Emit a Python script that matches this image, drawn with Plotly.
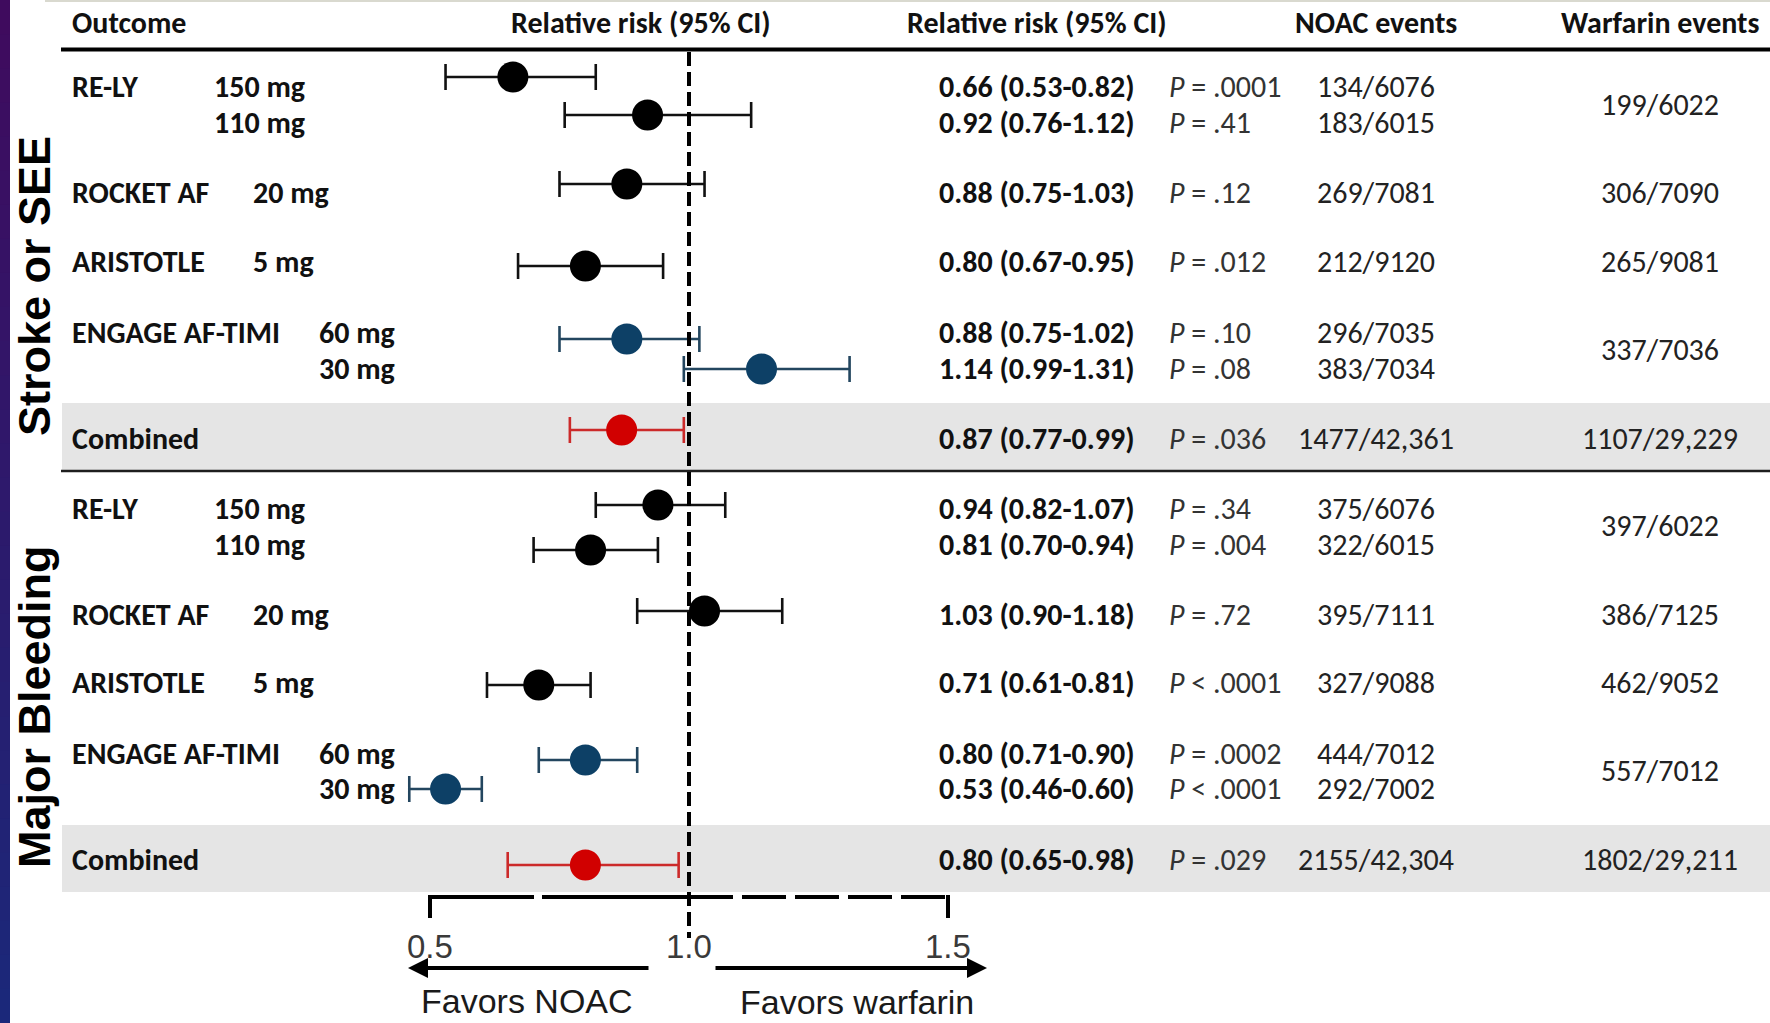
import plotly.graph_objects as go

W, H = 1770, 1023

# ---------------- data ----------------
studies = ["RE-LY", "", "ROCKET AF", "ARISTOTLE", "ENGAGE AF-TIMI", "", "Combined"]
doses = ["150 mg", "110 mg", "20 mg", "5 mg", "60 mg", "30 mg", ""]
row_group = ["black", "black", "black", "black", "blue", "blue", "red"]

stroke_rr = [0.66, 0.92, 0.88, 0.80, 0.88, 1.14, 0.87]
stroke_lo = [0.53, 0.76, 0.75, 0.67, 0.75, 0.99, 0.77]
stroke_hi = [0.82, 1.12, 1.03, 0.95, 1.02, 1.31, 0.99]
stroke_p = ["= .0001", "= .41", "= .12", "= .012", "= .10", "= .08", "= .036"]
stroke_noac = ["134/6076", "183/6015", "269/7081", "212/9120", "296/7035", "383/7034", "1477/42,361"]
stroke_warf = ["199/6022", "306/7090", "265/9081", "337/7036", "1107/29,229"]

bleed_rr = [0.94, 0.81, 1.03, 0.71, 0.80, 0.53, 0.80]
bleed_lo = [0.82, 0.70, 0.90, 0.61, 0.71, 0.46, 0.65]
bleed_hi = [1.07, 0.94, 1.18, 0.81, 0.90, 0.60, 0.98]
bleed_p = ["= .34", "= .004", "= .72", "< .0001", "= .0002", "< .0001", "= .029"]
bleed_noac = ["375/6076", "322/6015", "395/7111", "327/9088", "444/7012", "292/7002", "2155/42,304"]
bleed_warf = ["397/6022", "386/7125", "462/9052", "557/7012", "1802/29,211"]

headers = ["Outcome", "Relative risk (95% CI)", "Relative risk (95% CI)", "NOAC events", "Warfarin events"]
tick_vals = [0.5, 1.0, 1.5]
tick_text = ["0.5", "1.0", "1.5"]
section_titles = ["Stroke or SEE", "Major Bleeding"]

# ---------------- layout constants (pixels) ----------------
X_A, X_K = 171, 518          # pixel = X_A + X_K * value
def px2v(px):
    return (px - X_A) / X_K

sections = [
    dict(rr=stroke_rr, lo=stroke_lo, hi=stroke_hi, p=stroke_p, noac=stroke_noac, warf=stroke_warf,
         mark_y=[77, 115, 184, 266, 339, 369, 430],
         text_y=[86, 122, 192, 261, 332, 368, 438],
         warf_y=[104, 192, 261, 349, 438],
         band=(403, 470), title_y=286),
    dict(rr=bleed_rr, lo=bleed_lo, hi=bleed_hi, p=bleed_p, noac=bleed_noac, warf=bleed_warf,
         mark_y=[505, 550, 611, 685, 760, 789, 865],
         text_y=[508, 544, 614, 682, 753, 788, 859],
         warf_y=[525, 614, 682, 770, 859],
         band=(825, 892), title_y=707),
]

dose_x = [212, 212, 251, 251, 317, 317, 0]
COL_STUDY = 70
COL_RR = 937
COL_P = 1167
COL_NOAC = 1376
COL_WARF = 1660

BODY = "Carlito, 'Liberation Sans Narrow', 'Arial Narrow', sans-serif"
ARIAL = "'Liberation Sans', Arial, sans-serif"
FS = 30

colors = {
    "black": dict(marker="#000000", line="#111111"),
    "blue": dict(marker="#0d4066", line="#23465f"),
    "red": dict(marker="#d10000", line="#cc2a2a"),
}

fig = go.Figure()

# markers with CI
for sec in sections:
    for grp in ["black", "blue", "red"]:
        idx = [i for i, g in enumerate(row_group) if g == grp]
        xs = [sec["rr"][i] for i in idx]
        ys = [sec["mark_y"][i] for i in idx]
        plus = [sec["hi"][i] - sec["rr"][i] for i in idx]
        minus = [sec["rr"][i] - sec["lo"][i] for i in idx]
        fig.add_trace(go.Scatter(
            x=xs, y=ys, mode="markers",
            marker=dict(size=31, color=colors[grp]["marker"], line=dict(width=0)),
            error_x=dict(type="data", symmetric=False, array=plus, arrayminus=minus,
                         color=colors[grp]["line"], thickness=2.6, width=13),
            showlegend=False, hoverinfo="skip"))

shapes = []
annotations = []

def P(px):
    return px / W

# left gradient border
c_top = (0x3f, 0x0b, 0x5e)
c_bot = (0x1b, 0x28, 0x7a)
N = 30
for k in range(N):
    t = k / (N - 1)
    c = tuple(int(round(c_top[j] + (c_bot[j] - c_top[j]) * t)) for j in range(3))
    shapes.append(dict(type="rect", xref="paper", yref="y", x0=0, x1=P(10),
                       y0=H * k / N, y1=H * (k + 1) / N + 1,
                       fillcolor="rgb(%d,%d,%d)" % c, line=dict(width=0), layer="below"))

# faint top line
shapes.append(dict(type="line", xref="paper", yref="y", x0=P(45), x1=1, y0=1, y1=1,
                   line=dict(color="#d9d9cf", width=2)))

# shaded bands
for sec in sections:
    y0, y1 = sec["band"]
    shapes.append(dict(type="rect", xref="paper", yref="y", x0=P(62), x1=1, y0=y0, y1=y1,
                       fillcolor="#e5e5e5", line=dict(width=0), layer="below"))

# header and separator lines
shapes.append(dict(type="line", xref="paper", yref="y", x0=P(61), x1=1, y0=49.5, y1=49.5,
                   line=dict(color="#000000", width=4)))
shapes.append(dict(type="line", xref="paper", yref="y", x0=P(61), x1=1, y0=471, y1=471,
                   line=dict(color="#1e1e1e", width=2.5)))

# vertical reference line at 1.0
shapes.append(dict(type="line", xref="x", yref="y", x0=1.0, x1=1.0, y0=52, y1=938,
                   line=dict(color="#000000", width=4, dash="14px,6px")))

# bracket axis
AX_Y = 897
shapes.append(dict(type="line", xref="x", yref="y", x0=tick_vals[0], x1=px2v(534), y0=AX_Y, y1=AX_Y,
                   line=dict(color="#000000", width=4)))
shapes.append(dict(type="line", xref="x", yref="y", x0=px2v(542), x1=tick_vals[1], y0=AX_Y, y1=AX_Y,
                   line=dict(color="#000000", width=4)))
shapes.append(dict(type="line", xref="x", yref="y", x0=tick_vals[1], x1=tick_vals[2], y0=AX_Y, y1=AX_Y,
                   line=dict(color="#000000", width=4, dash="44px,9px")))
for tv in [tick_vals[0], tick_vals[2]]:
    shapes.append(dict(type="line", xref="x", yref="y", x0=tv, x1=tv, y0=AX_Y - 2, y1=AX_Y + 21,
                       line=dict(color="#000000", width=4)))

for tv, tt in zip(tick_vals, tick_text):
    annotations.append(dict(x=tv, y=946, xref="x", yref="y", text=tt, showarrow=False,
                            font=dict(family=ARIAL, size=33, color="#3a3a3a"),
                            xanchor="center", yanchor="middle"))

# arrows
annotations.append(dict(x=px2v(408), y=968, ax=px2v(650), ay=968, xref="x", yref="y", axref="x", ayref="y",
                        text="", showarrow=True, arrowhead=2, arrowsize=1, arrowwidth=4, arrowcolor="#000"))
annotations.append(dict(x=px2v(987), y=968, ax=px2v(714), ay=968, xref="x", yref="y", axref="x", ayref="y",
                        text="", showarrow=True, arrowhead=2, arrowsize=1, arrowwidth=4, arrowcolor="#000"))
annotations.append(dict(x=P(527), y=1001, xref="paper", yref="y", text="Favors NOAC", showarrow=False,
                        font=dict(family=ARIAL, size=34, color="#1a1a1a"), xanchor="center", yanchor="middle"))
annotations.append(dict(x=P(857), y=1002, xref="paper", yref="y", text="Favors warfarin", showarrow=False,
                        font=dict(family=ARIAL, size=34, color="#1a1a1a"), xanchor="center", yanchor="middle"))

# headers
hdr_x = [COL_STUDY, 641, 1037, COL_NOAC, COL_WARF]
hdr_anchor = ["left", "center", "center", "center", "center"]
for t, x, a in zip(headers, hdr_x, hdr_anchor):
    annotations.append(dict(x=P(x), y=22, xref="paper", yref="y", text="<b>%s</b>" % t, showarrow=False,
                            font=dict(family=BODY, size=FS, color="#111"), xanchor=a, yanchor="middle"))

# section titles (rotated)
for sec, title in zip(sections, section_titles):
    annotations.append(dict(x=P(34), y=sec["title_y"], xref="paper", yref="y", text="<b>%s</b>" % title,
                            showarrow=False, textangle=-90,
                            font=dict(family=ARIAL, size=45, color="#000"),
                            xanchor="center", yanchor="middle"))

# row texts
for sec in sections:
    for i in range(len(doses)):
        ty = sec["text_y"][i]
        if studies[i]:
            annotations.append(dict(x=P(COL_STUDY), y=ty, xref="paper", yref="y", text="<b>%s</b>" % studies[i],
                                    showarrow=False, font=dict(family=BODY, size=FS, color="#111"),
                                    xanchor="left", yanchor="middle"))
        if doses[i]:
            annotations.append(dict(x=P(dose_x[i]), y=ty, xref="paper", yref="y", text="<b>%s</b>" % doses[i],
                                    showarrow=False, font=dict(family=BODY, size=FS, color="#111"),
                                    xanchor="left", yanchor="middle"))
        rr_txt = "%.2f (%.2f-%.2f)" % (sec["rr"][i], sec["lo"][i], sec["hi"][i])
        annotations.append(dict(x=P(COL_RR), y=ty, xref="paper", yref="y", text="<b>%s</b>" % rr_txt,
                                showarrow=False, font=dict(family=BODY, size=FS, color="#111"),
                                xanchor="left", yanchor="middle"))
        annotations.append(dict(x=P(COL_P), y=ty, xref="paper", yref="y", text="<i>P</i> %s" % sec["p"][i],
                                showarrow=False, font=dict(family=BODY, size=FS, color="#333"),
                                xanchor="left", yanchor="middle"))
        annotations.append(dict(x=P(COL_NOAC), y=ty, xref="paper", yref="y", text=sec["noac"][i],
                                showarrow=False, font=dict(family=BODY, size=FS, color="#222"),
                                xanchor="center", yanchor="middle"))
    for w, wy in zip(sec["warf"], sec["warf_y"]):
        annotations.append(dict(x=P(COL_WARF), y=wy, xref="paper", yref="y", text=w,
                                showarrow=False, font=dict(family=BODY, size=FS, color="#222"),
                                xanchor="center", yanchor="middle"))

fig.update_layout(
    width=W, height=H,
    margin=dict(l=0, r=0, t=0, b=0),
    paper_bgcolor="white", plot_bgcolor="white",
    xaxis=dict(range=[px2v(0), px2v(W)], visible=False, fixedrange=True),
    yaxis=dict(range=[H, 0], visible=False, fixedrange=True),
    shapes=shapes, annotations=annotations,
    showlegend=False,
)

fig.write_html("out.html", config={"displayModeBar": False},
               post_script="document.body.style.margin='0px';document.body.style.overflow='hidden';")
